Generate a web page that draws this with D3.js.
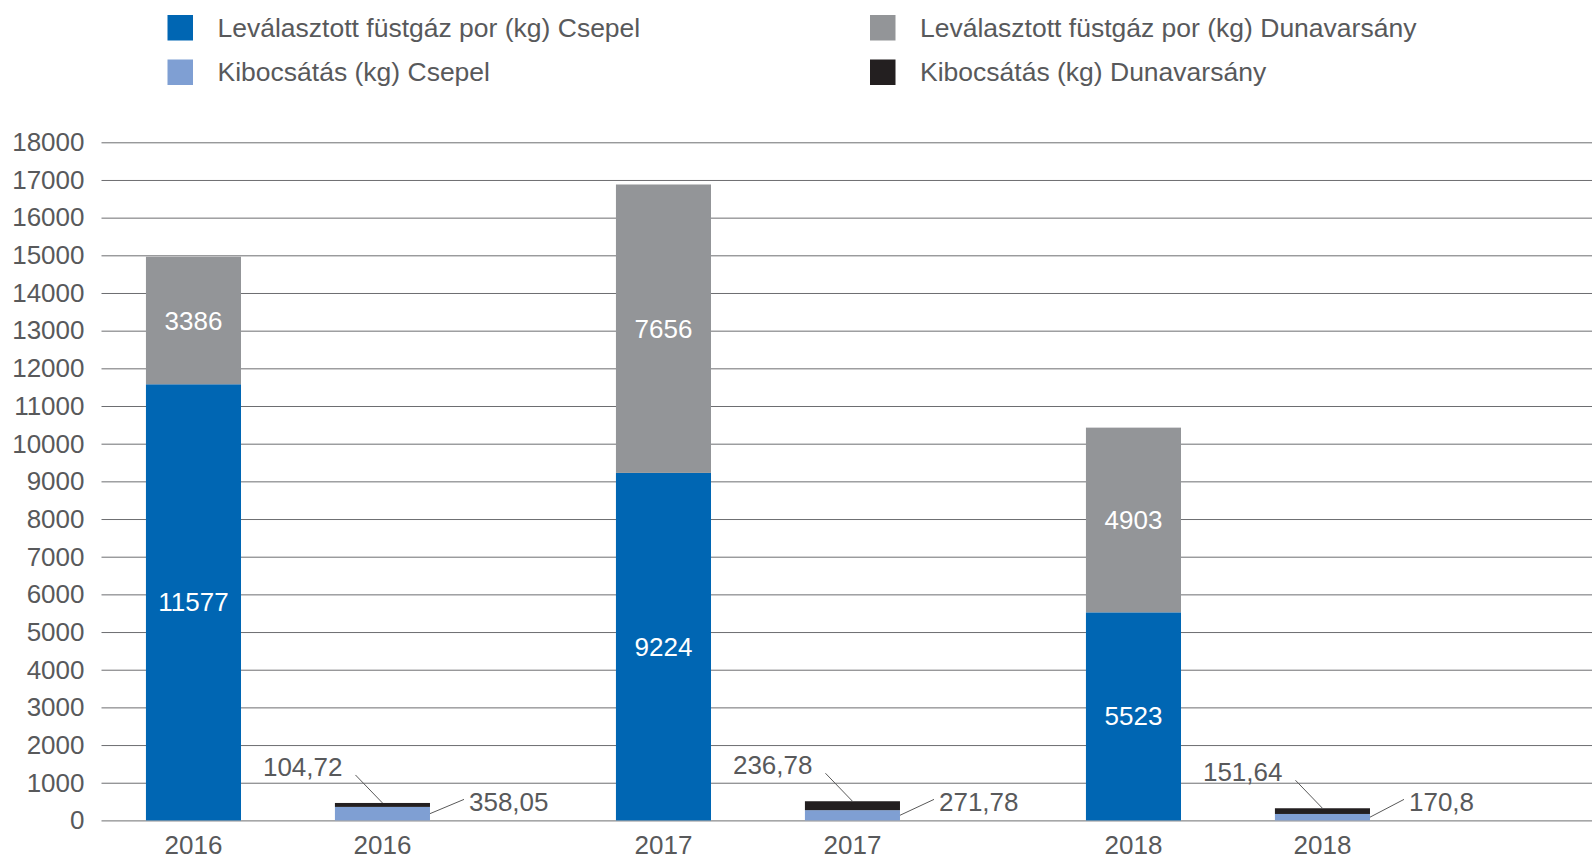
<!DOCTYPE html>
<html lang="hu">
<head>
    <meta charset="UTF-8">
    <title>Füstgáz por és kibocsátás</title>
    <script src="https://d3js.org/d3.v7.min.js"></script>
    <style>
        body { margin: 0; background: #fff; }
        text { font-family: "Liberation Sans", Arial, sans-serif; }
    </style>
</head>
<body>
    <script>
        // data
        const years = ["2016", "2017", "2018"];
        const porCsepel = [11577, 9224, 5523];
        const porDunavarsany = [3386, 7656, 4903];
        const kibCsepel = [358.05, 271.78, 170.8];
        const kibDunavarsany = [104.72, 236.78, 151.64];
        const yTicks = d3.range(0, 18001, 1000);

        const legendItems = [
            { label: "Leválasztott füstgáz por (kg) Csepel", color: "#0066b3", col: 0, row: 0 },
            { label: "Kibocsátás (kg) Csepel", color: "#7f9fd3", col: 0, row: 1 },
            { label: "Leválasztott füstgáz por (kg) Dunavarsány", color: "#939598", col: 1, row: 0 },
            { label: "Kibocsátás (kg) Dunavarsány", color: "#231f20", col: 1, row: 1 }
        ];

        const width = 1592;
        const height = 861;
        const textColor = "#58595b";
        const fmt = v => String(v).replace(".", ",");

        const svg = d3.select("body").append("svg")
            .attr("width", width)
            .attr("height", height);

        const x0 = d3.scaleBand()
            .domain(years)
            .range([101.5, 1511.5]);

        const x1 = d3.scaleBand()
            .domain(["por", "kib"])
            .range([0, x0.bandwidth()])
            .paddingInner(0.497)
            .paddingOuter(0.492)
            .align(0.239);

        const y = d3.scaleLinear()
            .domain([0, 18000])
            .range([820.4, 142.3]);

        // grid + y labels
        const yAxis = svg.append("g")
            .attr("transform", "translate(101.5,0)")
            .call(d3.axisLeft(y).tickValues(yTicks).tickFormat(d => d)
                .tickSize(-(width - 101.5)).tickPadding(17));
        yAxis.select(".domain").remove();
        yAxis.selectAll("line").attr("stroke", "#6d6e71").attr("stroke-width", 1);
        yAxis.selectAll("text")
            .attr("fill", textColor)
            .style("font-size", "26px");

        // stacked bars
        const groups = years.map((yr, i) => ({
            year: yr,
            big: [
                { v0: 0, v1: porCsepel[i], color: "#0066b3" },
                { v0: porCsepel[i], v1: porCsepel[i] + porDunavarsany[i], color: "#939598" }
            ],
            small: [
                { v0: 0, v1: kibCsepel[i], color: "#7f9fd3" },
                { v0: kibCsepel[i], v1: kibCsepel[i] + kibDunavarsany[i], color: "#231f20" }
            ],
            kc: kibCsepel[i],
            kd: kibDunavarsany[i]
        }));

        const g = svg.selectAll(".year")
            .data(groups)
            .enter().append("g")
            .attr("class", "year")
            .attr("transform", d => `translate(${x0(d.year)},0)`);

        g.selectAll(".big")
            .data(d => d.big)
            .enter().append("rect")
            .attr("x", x1("por"))
            .attr("width", x1.bandwidth())
            .attr("y", d => y(d.v1))
            .attr("height", d => y(d.v0) - y(d.v1))
            .attr("fill", d => d.color);

        g.selectAll(".bigLabel")
            .data(d => d.big)
            .enter().append("text")
            .attr("x", x1("por") + x1.bandwidth() / 2)
            .attr("y", d => y((d.v0 + d.v1) / 2))
            .attr("dy", "0.35em")
            .attr("text-anchor", "middle")
            .attr("fill", "#fff")
            .style("font-size", "26px")
            .text(d => d.v1 - d.v0);

        g.selectAll(".small")
            .data(d => d.small)
            .enter().append("rect")
            .attr("x", x1("kib"))
            .attr("width", x1.bandwidth())
            .attr("y", d => y(d.v1))
            .attr("height", d => y(d.v0) - y(d.v1))
            .attr("fill", d => d.color);

        // callout labels for the small bars
        g.each(function(d) {
            const grp = d3.select(this);
            const cx = x1("kib") + x1.bandwidth() / 2;
            const right = x1("kib") + x1.bandwidth();
            const top = y(d.kc + d.kd);
            const ly = top - 36;
            grp.append("text")
                .attr("x", cx - 40)
                .attr("y", ly)
                .attr("dy", "0.35em")
                .attr("text-anchor", "end")
                .attr("fill", textColor)
                .style("font-size", "26px")
                .text(fmt(d.kd));
            grp.append("line")
                .attr("x1", cx - 27).attr("y1", ly + 8)
                .attr("x2", cx).attr("y2", top)
                .attr("stroke", "#595959").attr("stroke-width", 1);

            const by = y(0) - 19;
            grp.append("text")
                .attr("x", right + 39)
                .attr("y", by)
                .attr("dy", "0.35em")
                .attr("fill", textColor)
                .style("font-size", "26px")
                .text(fmt(d.kc));
            grp.append("line")
                .attr("x1", right).attr("y1", y(d.kc / 2))
                .attr("x2", right + 34).attr("y2", by - 2)
                .attr("stroke", "#595959").attr("stroke-width", 1);
        });

        // year labels under every bar
        g.selectAll(".xLabel")
            .data(d => ["por", "kib"].map(k => ({ k: k, year: d.year })))
            .enter().append("text")
            .attr("x", d => x1(d.k) + x1.bandwidth() / 2)
            .attr("y", 854)
            .attr("text-anchor", "middle")
            .attr("fill", textColor)
            .style("font-size", "26px")
            .text(d => d.year);

        // legend
        const legend = svg.selectAll(".legend")
            .data(legendItems)
            .enter().append("g")
            .attr("class", "legend")
            .attr("transform", d => `translate(${167.5 + d.col * 702.5},${15 + d.row * 44.5})`);

        legend.append("rect")
            .attr("width", 25.5)
            .attr("height", 25.5)
            .attr("fill", d => d.color);

        legend.append("text")
            .attr("x", 50)
            .attr("y", 12.5)
            .attr("dy", "0.35em")
            .attr("fill", textColor)
            .style("font-size", "26.5px")
            .text(d => d.label);
    </script>
</body>
</html>
